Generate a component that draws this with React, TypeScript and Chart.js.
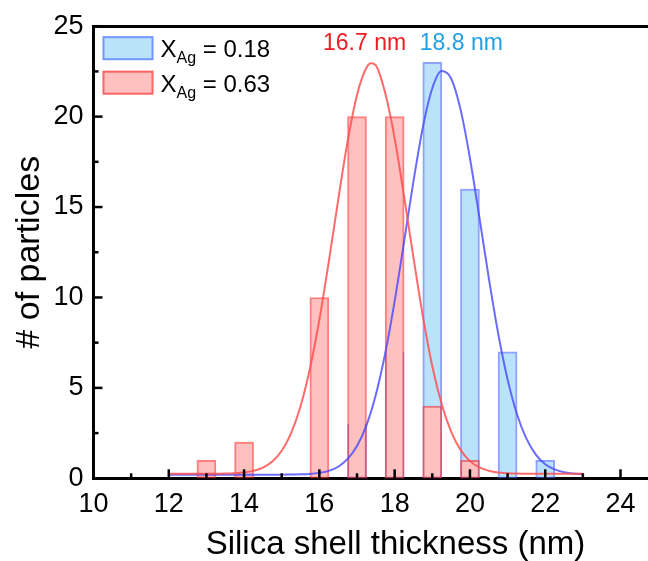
import { useEffect, useRef } from 'react';
import { Chart, registerables } from 'chart.js';

Chart.register(...registerables);

const FONT = "'Liberation Sans', Arial, Helvetica, sans-serif";

// Histogram bins (shell thickness, nm) and particle counts
const redBinX = [13, 14, 16, 17, 18, 19, 20];
const redCounts = [1, 2, 10, 20, 20, 4, 1];
const blueBinX = [17, 18, 19, 20, 21, 22];
const blueCounts = [3, 7, 23, 16, 7, 1];

// Gaussian fit curve for X_Ag = 0.63
const redFitX = [
  12, 12.25, 12.5, 12.75, 13, 13.25, 13.5, 13.75, 14, 14.25, 14.5, 14.75,
  15, 15.25, 15.5, 15.75, 16, 16.25, 16.5, 16.75, 17, 17.25, 17.375, 17.5, 17.75,
  18, 18.25, 18.5, 18.75, 19, 19.25, 19.5, 19.75, 20, 20.25, 20.5, 20.75,
  21, 21.25, 21.5, 21.75, 22, 22.25, 22.5, 22.75, 23,
];
const redFit = [
  0.25, 0.25, 0.25, 0.25, 0.25, 0.25, 0.26, 0.28, 0.32, 0.41, 0.59, 0.93,
  1.52, 2.5, 3.98, 6.07, 8.77, 11.97, 15.39, 18.63, 21.2, 22.7, 22.95, 22.84, 21.3,
  18.8, 15.6, 12.2, 8.95, 6.2, 4.1, 2.58, 1.57, 0.95, 0.6, 0.42, 0.32,
  0.28, 0.26, 0.25, 0.25, 0.25, 0.25, 0.25, 0.25, 0.25,
];

// Gaussian fit curve for X_Ag = 0.18
const blueFitX = [
  12, 12.25, 12.5, 12.75, 13, 13.25, 13.5, 13.75, 14, 14.25, 14.5, 14.75,
  15, 15.25, 15.5, 15.75, 16, 16.25, 16.5, 16.75, 17, 17.25, 17.5, 17.75,
  18, 18.25, 18.5, 18.75, 19, 19.25, 19.5, 19.75, 20, 20.25, 20.5, 20.75,
  21, 21.25, 21.5, 21.75, 22, 22.25, 22.5, 22.75, 23,
];
const blueFit = [
  0.2, 0.2, 0.2, 0.2, 0.2, 0.2, 0.2, 0.2, 0.2, 0.2, 0.2, 0.2,
  0.2, 0.21, 0.22, 0.24, 0.3, 0.41, 0.64, 1.07, 1.79, 2.93, 4.62, 6.92,
  9.8, 13.08, 16.43, 19.42, 21.57, 22.52, 22.11, 20.4, 17.7, 14.44, 11.08, 8.01,
  5.47, 3.54, 2.19, 1.31, 0.78, 0.49, 0.33, 0.26, 0.22,
];

// Axis ticks
const xMajorTicks = [10, 12, 14, 16, 18, 20, 22, 24];
const xMinorTicks = [11, 13, 15, 17, 19, 21, 23];
const yMajorTicks = [0, 5, 10, 15, 20, 25];
const yMinorTicks = [2.5, 7.5, 12.5, 17.5, 22.5];

// Legend and peak labels
const legendValues = ['0.18', '0.63'];
const peakLabels = ['16.7 nm', '18.8 nm'];
const peakLabelX = [17.2, 19.77];
const peakLabelY = 23.7;

const X_MIN = 10;
const X_MAX = 24.73;
const Y_MIN = 0;
const Y_MAX = 25;

const BLUE_FILL = '#bae3fa';
const BLUE_EDGE = 'rgba(70,100,255,0.6)';
const RED_FILL = '#ffc0c0';
const RED_EDGE = 'rgba(255,40,40,0.6)';
const BLUE_LINE = 'rgba(70,70,255,0.8)';
const RED_LINE = 'rgba(255,80,80,0.85)';

const framePlugin = {
  id: 'frameTicks',
  afterDraw(chart: any) {
    const { ctx, chartArea, scales } = chart;
    const xs = scales.x;
    const ys = scales.y;
    ctx.save();
    ctx.strokeStyle = '#000';
    ctx.lineCap = 'butt';

    const drawX = (vals: number[], len: number, w: number) => {
      ctx.lineWidth = w;
      for (const v of vals) {
        const px = xs.getPixelForValue(v);
        ctx.beginPath();
        ctx.moveTo(px, chartArea.bottom);
        ctx.lineTo(px, chartArea.bottom - len);
        ctx.stroke();
      }
    };
    const drawY = (vals: number[], len: number, w: number) => {
      ctx.lineWidth = w;
      for (const v of vals) {
        const py = ys.getPixelForValue(v);
        ctx.beginPath();
        ctx.moveTo(chartArea.left, py);
        ctx.lineTo(chartArea.left + len, py);
        ctx.stroke();
      }
    };
    drawX(xMajorTicks, 9, 2.5);
    drawX(xMinorTicks, 5, 2.5);
    drawY(yMajorTicks, 9, 2.5);
    drawY(yMinorTicks, 5, 2.5);

    // axis titles
    ctx.fillStyle = '#000';
    ctx.textAlign = 'center';
    ctx.textBaseline = 'middle';
    ctx.font = `33px ${FONT}`;
    ctx.fillText('Silica shell thickness (nm)', chartArea.left + 302, 545);
    ctx.save();
    ctx.font = `34px ${FONT}`;
    ctx.translate(30, (chartArea.top + chartArea.bottom) / 2);
    ctx.rotate(-Math.PI / 2);
    ctx.fillText('# of particles', 0, 0);
    ctx.restore();

    // peak labels
    ctx.font = `23px ${FONT}`;
    ctx.textBaseline = 'alphabetic';
    const peakColors = ['#ee1c25', '#1f9fe6'];
    peakLabels.forEach((t, i) => {
      ctx.fillStyle = peakColors[i];
      ctx.fillText(t, xs.getPixelForValue(peakLabelX[i]), ys.getPixelForValue(peakLabelY));
    });

    // legend
    const fills = [BLUE_FILL, RED_FILL];
    const edges = [BLUE_EDGE, RED_EDGE];
    const boxL = chartArea.left + 9;
    legendValues.forEach((val, i) => {
      const top = chartArea.top + 10 + i * 34.5;
      ctx.fillStyle = fills[i];
      ctx.fillRect(boxL, top, 51, 24);
      ctx.strokeStyle = edges[i];
      ctx.lineWidth = 2;
      ctx.strokeRect(boxL + 1, top + 1, 49, 22);
      ctx.fillStyle = '#000';
      ctx.textAlign = 'left';
      ctx.textBaseline = 'alphabetic';
      const base = top + 21;
      let x = boxL + 58;
      ctx.font = `24px ${FONT}`;
      ctx.fillText('X', x, base);
      x += ctx.measureText('X').width;
      ctx.font = `16px ${FONT}`;
      ctx.fillText('Ag', x, base + 6);
      x += ctx.measureText('Ag').width;
      ctx.font = `24px ${FONT}`;
      ctx.fillText(` = ${val}`, x, base);
    });
    ctx.restore();
  },
};

export default function App() {
  const canvasRef = useRef<HTMLCanvasElement | null>(null);

  useEffect(() => {
    const canvas = canvasRef.current;
    if (!canvas) return;
    const tickFont = { family: FONT, size: 27 };
    const chart = new Chart(canvas, {
      type: 'bar',
      data: {
        datasets: [
          {
            type: 'line',
            label: 'fit 0.63',
            data: redFitX.map((x, i) => ({ x, y: redFit[i] })),
            borderColor: RED_LINE,
            borderWidth: 2,
            pointRadius: 0,
            cubicInterpolationMode: 'monotone',
            order: 0,
          },
          {
            type: 'line',
            label: 'fit 0.18',
            data: blueFitX.map((x, i) => ({ x, y: blueFit[i] })),
            borderColor: BLUE_LINE,
            borderWidth: 2,
            pointRadius: 0,
            cubicInterpolationMode: 'monotone',
            order: 0,
          },
          {
            type: 'bar',
            label: 'X_Ag = 0.63',
            data: redBinX.map((x, i) => ({ x, y: redCounts[i] })),
            backgroundColor: RED_FILL,
            borderColor: RED_EDGE,
            borderWidth: 2,
            borderSkipped: false,
            barThickness: 19,
            grouped: false,
            order: 1,
          },
          {
            type: 'bar',
            label: 'X_Ag = 0.18',
            data: blueBinX.map((x, i) => ({ x, y: blueCounts[i] })),
            backgroundColor: BLUE_FILL,
            borderColor: BLUE_EDGE,
            borderWidth: 2,
            borderSkipped: false,
            barThickness: 19,
            grouped: false,
            order: 2,
          },
        ] as any,
      },
      options: {
        responsive: false,
        animation: false,
        devicePixelRatio: 1,
        layout: { padding: 0 },
        plugins: {
          legend: { display: false },
          tooltip: { enabled: false },
        },
        scales: {
          x: {
            type: 'linear',
            position: 'bottom',
            min: X_MIN,
            max: X_MAX,
            offset: false,
            afterBuildTicks: (s: any) => {
              s.ticks = xMajorTicks.map((v) => ({ value: v }));
            },
            afterFit: (s: any) => {
              s.height = 82.7;
            },
            ticks: { font: tickFont, color: '#000', padding: 10, maxRotation: 0, autoSkip: false },
            grid: { display: false, drawTicks: false },
            border: { display: true, width: 3, color: '#000' },
          },
          xTop: {
            type: 'linear',
            position: 'top',
            min: X_MIN,
            max: X_MAX,
            afterFit: (s: any) => {
              s.height = 22.7;
            },
            ticks: { display: false },
            grid: { display: false, drawTicks: false },
            border: { display: true, width: 3, color: '#000' },
          },
          y: {
            type: 'linear',
            min: Y_MIN,
            max: Y_MAX,
            afterBuildTicks: (s: any) => {
              s.ticks = yMajorTicks.map((v) => ({ value: v }));
            },
            afterFit: (s: any) => {
              s.width = 93.5;
            },
            ticks: { font: tickFont, color: '#000', padding: 10 },
            grid: { display: false, drawTicks: false },
            border: { display: true, width: 3, color: '#000' },
          },
        },
      } as any,
      plugins: [framePlugin],
    });
    return () => chart.destroy();
  }, []);

  return (
    <div style={{ position: 'fixed', left: 0, top: 0, width: 648, height: 561, background: '#fff' }}>
      <canvas ref={canvasRef} width={648} height={561} style={{ display: 'block' }} />
    </div>
  );
}
